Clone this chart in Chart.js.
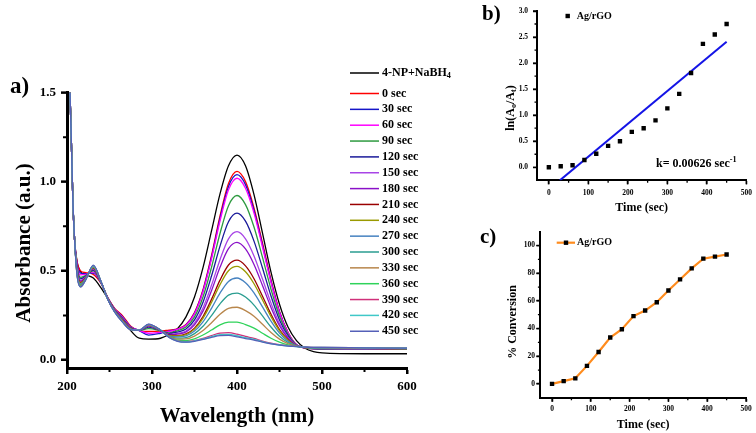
<!DOCTYPE html>
<html>
<head>
<meta charset="utf-8">
<script src="https://cdn.jsdelivr.net/npm/chart.js@4.4.1/dist/chart.umd.min.js"></script>
<style>
  html, body { margin: 0; padding: 0; background: #fff; }
  #wrap { position: relative; width: 756px; height: 433px; overflow: hidden; }
  canvas { position: absolute; }
</style>
</head>
<body>
<div id="wrap">
  <canvas id="specChart" width="470" height="433" style="left:0;top:0"></canvas>
  <canvas id="kinChart" width="296" height="215" style="left:460px;top:0"></canvas>
  <canvas id="convChart" width="296" height="218" style="left:460px;top:215px"></canvas>
</div>
<script>
// ---- panel a: spectra (absorbance vs wavelength) ----
var wavelength = [200,203,205,207,209,212,216,222,231,240,248,256,265,275,285,296,310,320,
  330,340,350,360,370,380,390,400,410,420,430,440,450,460,470,480,490,500,550,600];

var spectrumLabels = ['4-NP+NaBH4','0 sec','30 sec','60 sec','90 sec','120 sec','150 sec','180 sec',
  '210 sec','240 sec','270 sec','300 sec','330 sec','360 sec','390 sec','420 sec','450 sec'];

var spectrumColors = ['#000000','#ff0000','#1515c8','#ff00ff','#2e9a40','#1a1a9a','#a845e6','#8a10c8',
  '#9a0000','#9a9a00','#4682c0','#2a9d90','#b8864b','#2fd35a','#d0307a','#40c8c8','#5560b8'];

var abs_np  = [2.4,1.6,1.25,0.88,0.67,0.545,0.495,0.478,0.46,0.405,0.345,0.285,0.235,0.165,0.122,0.117,0.122,0.143,
  0.176,0.242,0.353,0.518,0.724,0.932,1.09,1.15,1.09,0.928,0.712,0.493,0.313,0.185,0.109,0.066,0.047,0.04,0.035,0.035];
var abs_0   = [2.4,1.6,1.25,0.88,0.67,0.55,0.50,0.49,0.48,0.43,0.35,0.29,0.25,0.19,0.165,0.16,0.162,0.168,
  0.174,0.199,0.266,0.394,0.586,0.808,0.990,1.058,1.001,0.854,0.657,0.450,0.273,0.155,0.085,0.068,0.063,0.062,0.062,0.060];
var abs_30  = [2.4,1.6,1.25,0.88,0.67,0.538,0.487,0.484,0.488,0.432,0.349,0.287,0.245,0.187,0.165,0.14,0.15,0.162,
  0.173,0.197,0.262,0.389,0.577,0.795,0.974,1.04,0.984,0.840,0.645,0.442,0.269,0.153,0.085,0.068,0.063,0.062,0.062,0.060];
var abs_60  = [2.4,1.6,1.25,0.88,0.67,0.53,0.478,0.48,0.493,0.433,0.348,0.285,0.241,0.185,0.166,0.15,0.155,0.16,
  0.172,0.195,0.259,0.383,0.567,0.780,0.955,1.02,0.964,0.824,0.634,0.435,0.266,0.152,0.085,0.068,0.063,0.062,0.062,0.060];
var abs_90  = [2.4,1.6,1.25,0.88,0.67,0.518,0.464,0.474,0.50,0.434,0.346,0.282,0.236,0.182,0.166,0.176,0.164,0.152,
  0.164,0.185,0.242,0.353,0.520,0.710,0.866,0.923,0.872,0.746,0.576,0.397,0.246,0.144,0.084,0.068,0.064,0.063,0.063,0.061];
var abs_120 = [2.4,1.6,1.25,0.88,0.67,0.51,0.455,0.47,0.505,0.435,0.345,0.28,0.233,0.18,0.167,0.185,0.165,0.148,
  0.157,0.174,0.225,0.324,0.471,0.639,0.776,0.824,0.779,0.667,0.516,0.359,0.225,0.136,0.083,0.069,0.065,0.064,0.064,0.062];
var abs_150 = [2.4,1.6,1.25,0.88,0.67,0.502,0.446,0.466,0.51,0.436,0.344,0.278,0.229,0.178,0.167,0.19,0.166,0.144,
  0.149,0.163,0.207,0.292,0.419,0.563,0.680,0.72,0.680,0.584,0.454,0.319,0.204,0.127,0.082,0.069,0.066,0.065,0.064,0.062];
var abs_180 = [2.4,1.6,1.25,0.88,0.67,0.498,0.442,0.464,0.513,0.437,0.344,0.277,0.227,0.177,0.167,0.192,0.166,0.142,
  0.145,0.157,0.197,0.274,0.389,0.520,0.625,0.66,0.623,0.536,0.418,0.295,0.192,0.122,0.081,0.070,0.066,0.065,0.065,0.063];
var abs_210 = [2.4,1.6,1.25,0.88,0.67,0.492,0.435,0.461,0.516,0.437,0.343,0.276,0.225,0.176,0.167,0.194,0.166,0.139,
  0.137,0.146,0.179,0.244,0.340,0.448,0.533,0.56,0.528,0.456,0.358,0.257,0.171,0.114,0.080,0.070,0.067,0.066,0.065,0.063];
var abs_240 = [2.4,1.6,1.25,0.88,0.67,0.488,0.43,0.459,0.519,0.438,0.342,0.274,0.223,0.174,0.167,0.195,0.167,0.137,
  0.135,0.142,0.173,0.234,0.323,0.423,0.501,0.525,0.495,0.428,0.337,0.243,0.164,0.111,0.079,0.070,0.067,0.067,0.065,0.063];
var abs_270 = [2.4,1.6,1.25,0.88,0.67,0.484,0.425,0.457,0.522,0.438,0.342,0.273,0.221,0.173,0.168,0.196,0.167,0.135,
  0.130,0.135,0.162,0.214,0.290,0.375,0.441,0.46,0.433,0.376,0.298,0.218,0.151,0.105,0.079,0.071,0.068,0.067,0.066,0.064];
var abs_300 = [2.4,1.6,1.25,0.88,0.67,0.48,0.421,0.455,0.524,0.439,0.341,0.272,0.219,0.172,0.168,0.197,0.167,0.133,
  0.123,0.126,0.148,0.189,0.249,0.315,0.364,0.375,0.353,0.308,0.247,0.185,0.133,0.098,0.078,0.071,0.068,0.068,0.066,0.064];
var abs_330 = [2.4,1.6,1.25,0.88,0.67,0.476,0.417,0.453,0.526,0.439,0.341,0.272,0.218,0.172,0.168,0.197,0.168,0.131,
  0.117,0.118,0.134,0.165,0.209,0.257,0.290,0.296,0.277,0.245,0.200,0.154,0.117,0.092,0.077,0.071,0.069,0.069,0.067,0.065];
var abs_360 = [2.4,1.6,1.25,0.88,0.67,0.474,0.415,0.452,0.528,0.44,0.341,0.271,0.217,0.171,0.168,0.198,0.168,0.13,
  0.111,0.109,0.119,0.140,0.168,0.197,0.212,0.213,0.199,0.179,0.150,0.122,0.100,0.085,0.076,0.072,0.069,0.069,0.068,0.066];
var abs_390 = [2.4,1.6,1.25,0.88,0.67,0.471,0.411,0.451,0.529,0.44,0.34,0.27,0.216,0.17,0.168,0.199,0.168,0.129,
  0.107,0.103,0.109,0.121,0.137,0.151,0.153,0.145,0.132,0.121,0.106,0.094,0.086,0.080,0.076,0.073,0.071,0.070,0.068,0.066];
var abs_420 = [2.4,1.6,1.25,0.88,0.67,0.47,0.41,0.45,0.53,0.44,0.34,0.27,0.215,0.17,0.168,0.2,0.168,0.128,
  0.106,0.101,0.107,0.118,0.131,0.142,0.143,0.136,0.125,0.116,0.103,0.092,0.084,0.079,0.075,0.072,0.070,0.070,0.068,0.066];
var abs_450 = [2.4,1.6,1.25,0.88,0.67,0.47,0.41,0.45,0.532,0.44,0.34,0.27,0.214,0.17,0.167,0.201,0.167,0.127,
  0.105,0.100,0.105,0.115,0.127,0.137,0.138,0.130,0.120,0.112,0.100,0.090,0.083,0.078,0.075,0.072,0.070,0.070,0.068,0.066];

var spectra = [abs_np, abs_0, abs_30, abs_60, abs_90, abs_120, abs_150, abs_180, abs_210,
  abs_240, abs_270, abs_300, abs_330, abs_360, abs_390, abs_420, abs_450];

var specXTicks = [200, 300, 400, 500, 600];
var specYTicks = [0, 0.5, 1.0, 1.5];

// ---- panel b / c: kinetics ----
var timeSec   = [0,30,60,90,120,150,180,210,240,270,300,330,360,390,420,450];
var lnRatio   = [0.00,0.02,0.04,0.14,0.26,0.41,0.50,0.68,0.75,0.90,1.13,1.41,1.81,2.37,2.55,2.75];
var fitTime   = [28, 450];
var fitLn     = [-0.25, 2.41];
var conversion = [0,2,4,13,23,33.5,39.5,49,53,59,67.5,75.5,83.5,90.5,92,93.5];

var timeTicks = [0, 100, 200, 300, 400, 500];
var lnTicks   = [0, 0.5, 1.0, 1.5, 2.0, 2.5, 3.0];
var convTicks = [0, 20, 40, 60, 80, 100];

var SERIF = '"Liberation Serif", "Times New Roman", serif';
Chart.defaults.color = '#000';
Chart.defaults.font.family = SERIF;
Chart.defaults.font.weight = 'bold';

function setTicks(values) {
  return function (scale) {
    scale.ticks = values.map(function (v) { return { value: v }; });
  };
}

function xy(xs, ys) {
  return ys.map(function (v, i) { return { x: xs[i], y: v }; });
}

// rich text with sub/superscripts, parts = [[text, 'sub'|'sup'|null], ...]
function drawRich(ctx, parts, x, y, size, center) {
  function fnt(p) { return 'bold ' + (p[1] ? size * 0.68 : size) + 'px ' + SERIF; }
  var w = 0;
  parts.forEach(function (p) { ctx.font = fnt(p); w += ctx.measureText(p[0]).width; });
  var cx = center ? x - w / 2 : x;
  parts.forEach(function (p) {
    ctx.font = fnt(p);
    var dy = p[1] === 'sub' ? size * 0.28 : (p[1] === 'sup' ? -size * 0.35 : 0);
    ctx.fillText(p[0], cx, y + dy);
    cx += ctx.measureText(p[0]).width;
  });
}

// outward tick marks (major + minor) at scale values
var tickMarks = {
  id: 'tickMarks',
  afterDraw: function (chart, args, opts) {
    var ctx = chart.ctx, a = chart.chartArea;
    ctx.save();
    ctx.strokeStyle = '#000';
    ctx.lineWidth = opts.width;
    ctx.beginPath();
    function xt(list, len) {
      list.forEach(function (v) {
        var px = chart.scales.x.getPixelForValue(v);
        ctx.moveTo(px, a.bottom); ctx.lineTo(px, a.bottom + len);
      });
    }
    function yt(list, len) {
      list.forEach(function (v) {
        var py = chart.scales.y.getPixelForValue(v);
        ctx.moveTo(a.left, py); ctx.lineTo(a.left - len, py);
      });
    }
    xt(opts.xMajor, opts.major); yt(opts.yMajor, opts.major);
    xt(opts.xMinor, opts.minor); yt(opts.yMinor, opts.minor);
    ctx.stroke();
    ctx.restore();
  }
};

function axisOpts(min, max, ticks, fmt, fontSize, tl, tw, bw, pad) {
  return {
    type: 'linear', min: min, max: max,
    afterBuildTicks: setTicks(ticks),
    ticks: { font: { size: fontSize, weight: 'bold' }, padding: pad, callback: fmt, color: '#000' },
    grid: { drawOnChartArea: false, drawTicks: true, tickLength: tl, tickWidth: tw, tickColor: '#000' },
    border: { display: true, color: '#000', width: bw }
  };
}

// ---------------- panel a ----------------
var specText = {
  id: 'specText',
  afterDraw: function (chart) {
    var ctx = chart.ctx;
    ctx.save();
    ctx.fillStyle = '#000';
    ctx.textBaseline = 'alphabetic';
    ctx.font = 'bold 23px ' + SERIF;
    ctx.fillText('a)', 10, 93);

    ctx.textBaseline = 'middle';
    ctx.save();
    ctx.translate(25, 243);
    ctx.rotate(-Math.PI / 2);
    drawRich(ctx, [['Absorbance (a.u.)']], 0, 0, 21, true);
    ctx.restore();

    // legend
    chart.data.datasets.forEach(function (ds, i) {
      var y = i === 0 ? 73 : 93.5 + (i - 1) * 15.85;
      ctx.strokeStyle = ds.borderColor;
      ctx.lineWidth = 1.5;
      ctx.beginPath();
      ctx.moveTo(350, y); ctx.lineTo(379, y);
      ctx.stroke();
      if (i === 0) {
        drawRich(ctx, [['4-NP+NaBH'], ['4', 'sub']], 382, y, 12, false);
      } else {
        drawRich(ctx, [[ds.label]], 382, y, 12, false);
      }
    });
    ctx.restore();
  }
};

var specDatasets = spectra.map(function (vals, i) {
  return {
    label: spectrumLabels[i],
    data: xy(wavelength, vals),
    borderColor: spectrumColors[i],
    borderWidth: 1.3,
    pointRadius: 0,
    cubicInterpolationMode: 'monotone',
    fill: false,
    order: spectra.length - i
  };
});

var xA = axisOpts(200, 600, specXTicks, function (v) { return String(v); }, 13, 6, 2, 3, 5);
xA.title = { display: true, text: 'Wavelength (nm)', font: { size: 21, weight: 'bold' }, padding: { top: 0, bottom: 4 } };
xA.afterFit = function (s) { s.height = 65; };
var yA = axisOpts(-0.045, 1.5, specYTicks, function (v) { return v.toFixed(1); }, 13, 6, 2, 3, 5);
yA.afterFit = function (s) { s.width = 67; };

new Chart(document.getElementById('specChart'), {
  type: 'line',
  data: { datasets: specDatasets },
  options: {
    responsive: false, animation: false,
    layout: { padding: { left: 0, top: 92.7, right: 63, bottom: 0 } },
    scales: { x: xA, y: yA },
    plugins: {
      legend: { display: false }, tooltip: { enabled: false },
      tickMarks: { xMajor: specXTicks, yMajor: specYTicks, xMinor: [250, 350, 450, 550],
        yMinor: [0.25, 0.75, 1.25], major: 6, minor: 4, width: 2 }
    }
  },
  plugins: [tickMarks, specText]
});

// ---------------- panel b ----------------
var kinText = {
  id: 'kinText',
  afterDraw: function (chart) {
    var ctx = chart.ctx;
    ctx.save();
    ctx.fillStyle = '#000';
    ctx.textBaseline = 'alphabetic';
    ctx.font = 'bold 21px ' + SERIF;
    ctx.fillText('b)', 22, 20);

    ctx.textBaseline = 'middle';
    ctx.save();
    ctx.translate(50.7, 108);
    ctx.rotate(-Math.PI / 2);
    drawRich(ctx, [['ln(A'], ['o', 'sub'], ['/A'], ['t', 'sub'], [')']], 0, 0, 12, true);
    ctx.restore();

    ctx.fillRect(107.7 - 2.2, 16 - 2.2, 4.4, 4.4);
    drawRich(ctx, [['Ag/rGO']], 116.7, 16, 10, false);

    drawRich(ctx, [['k= 0.00626 sec'], ['-1', 'sup']], 196, 164, 12, false);
    ctx.restore();
  }
};

var xB = axisOpts(-30, 500, timeTicks, function (v) { return String(v); }, 7.5, 4, 1.5, 2, 4);
xB.title = { display: true, text: 'Time (sec)', font: { size: 12, weight: 'bold' }, padding: { top: 0, bottom: 0 } };
xB.afterFit = function (s) { s.height = 215 - 180.3; };
var yB = axisOpts(-0.25, 3.0, lnTicks, function (v) { return v.toFixed(1); }, 7.5, 4, 1.5, 2, 5);
yB.afterFit = function (s) { s.width = 77; };

new Chart(document.getElementById('kinChart'), {
  type: 'scatter',
  data: {
    datasets: [
      { label: 'Ag/rGO', data: xy(timeSec, lnRatio), pointStyle: 'rect', pointRadius: 3.1,
        backgroundColor: '#000', borderColor: '#000', borderWidth: 0, showLine: false },
      { label: 'fit', data: xy(fitTime, fitLn), showLine: true, pointRadius: 0,
        borderColor: '#1414e6', borderWidth: 2, tension: 0 }
    ]
  },
  options: {
    responsive: false, animation: false,
    layout: { padding: { left: 0, top: 11, right: 296 - 288.7, bottom: 0 } },
    scales: { x: xB, y: yB },
    plugins: {
      legend: { display: false }, tooltip: { enabled: false },
      tickMarks: { xMajor: timeTicks, yMajor: lnTicks, xMinor: [50, 150, 250, 350, 450],
        yMinor: [0.25, 0.75, 1.25, 1.75, 2.25, 2.75], major: 4, minor: 2.5, width: 1.3 }
    }
  },
  plugins: [tickMarks, kinText]
});

// ---------------- panel c ----------------
var convText = {
  id: 'convText',
  afterDraw: function (chart) {
    var ctx = chart.ctx;
    ctx.save();
    ctx.fillStyle = '#000';
    ctx.textBaseline = 'alphabetic';
    ctx.font = 'bold 21px ' + SERIF;
    ctx.fillText('c)', 20, 28);

    ctx.textBaseline = 'middle';
    ctx.save();
    ctx.translate(52.5, 107);
    ctx.rotate(-Math.PI / 2);
    drawRich(ctx, [['% Conversion']], 0, 0, 12, true);
    ctx.restore();

    ctx.strokeStyle = '#ff8c1e';
    ctx.lineWidth = 2.2;
    ctx.beginPath();
    ctx.moveTo(96.7, 27.7); ctx.lineTo(115, 27.7);
    ctx.stroke();
    ctx.fillRect(106 - 2.2, 27.7 - 2.2, 4.4, 4.4);
    drawRich(ctx, [['Ag/rGO']], 117, 27.7, 10, false);
    ctx.restore();
  }
};

var xC = axisOpts(-30, 500, timeTicks, function (v) { return String(v); }, 7.5, 4, 1.5, 2, 3);
xC.title = { display: true, text: 'Time (sec)', font: { size: 12, weight: 'bold' }, padding: { top: 0, bottom: 1 } };
xC.afterFit = function (s) { s.height = 218 - 182.7; };
var yC = axisOpts(-10, 110, convTicks, function (v) { return String(v); }, 7.5, 4, 1.5, 2, 1.5);
yC.afterFit = function (s) { s.width = 80.4; };

new Chart(document.getElementById('convChart'), {
  type: 'line',
  data: {
    datasets: [
      { label: 'Ag/rGO', data: xy(timeSec, conversion), borderColor: '#ff8c1e', borderWidth: 2.2,
        pointStyle: 'rect', pointRadius: 3.1, pointBackgroundColor: '#000', pointBorderWidth: 0,
        tension: 0, fill: false }
    ]
  },
  options: {
    responsive: false, animation: false,
    layout: { padding: { left: 0, top: 16.7, right: 10, bottom: 0 } },
    scales: { x: xC, y: yC },
    plugins: {
      legend: { display: false }, tooltip: { enabled: false },
      tickMarks: { xMajor: timeTicks, yMajor: convTicks, xMinor: [50, 150, 250, 350, 450],
        yMinor: [10, 30, 50, 70, 90], major: 4, minor: 2.5, width: 1.3 }
    }
  },
  plugins: [tickMarks, convText]
});
</script>
</body>
</html>
